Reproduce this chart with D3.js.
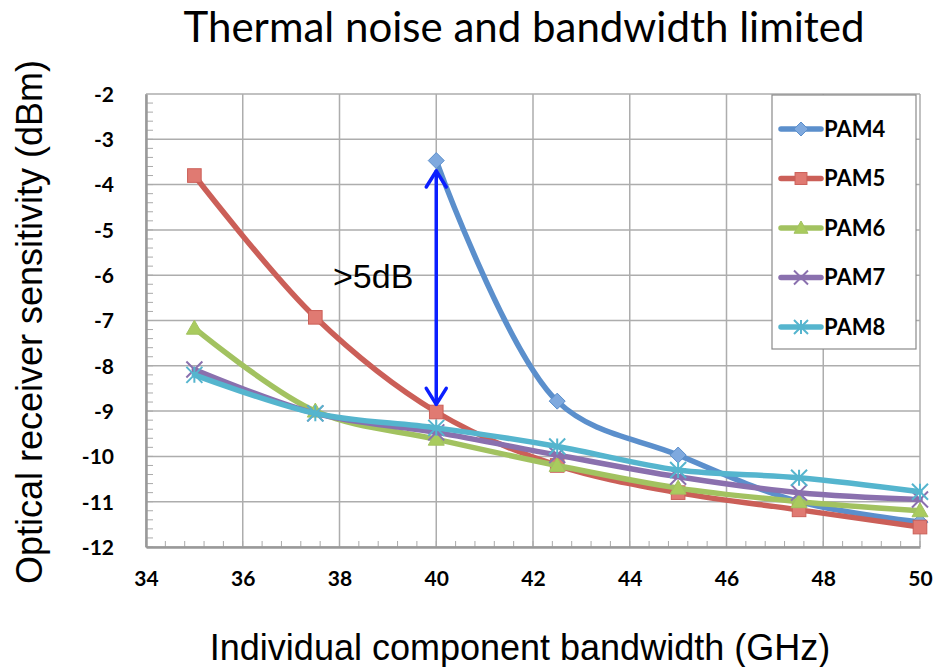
<!DOCTYPE html>
<html>
<head>
<meta charset="utf-8">
<script src="https://cdn.jsdelivr.net/npm/d3@7"></script>
<style>
  body { margin: 0; background: #fff; }
  svg text { fill: #000; }
</style>
</head>
<body>
<div id="chart"></div>
<script>
var width = 937;
var height = 667;

// data
var bandwidth = [35, 37.5, 40, 42.5, 45, 47.5, 50];
var pam4 = [null, null, -3.47, -8.78, -9.97, -11.0, -11.45];
var pam5 = [-3.8, -6.93, -9.02, -10.2, -10.8, -11.18, -11.56];
var pam6 = [-7.17, -9.0, -9.62, -10.2, -10.7, -11.0, -11.2];
var pam7 = [-8.08, -9.05, -9.47, -9.97, -10.45, -10.8, -10.95];
var pam8 = [-8.2, -9.05, -9.37, -9.78, -10.3, -10.47, -10.78];
var seriesNames = ["PAM4", "PAM5", "PAM6", "PAM7", "PAM8"];
var xTicks = [34, 36, 38, 40, 42, 44, 46, 48, 50];
var yTicks = [-2, -3, -4, -5, -6, -7, -8, -9, -10, -11, -12];

var colors = ["#5B8FCC", "#CB5F58", "#A2C260", "#8A70AE", "#55B5CE"];
var markerFill = ["#7FA9DE", "#E07A72", "#A9CB5E", "#8A70AE", "#6CC3DA"];
var shapes = ["diamond", "square", "triangle", "x", "star"];

var x = d3.scaleLinear().domain([34, 50]).range([146, 920]);
var y = d3.scaleLinear().domain([-12, -2]).range([547, 94]);

var svg = d3.select("#chart").append("svg")
    .attr("width", width)
    .attr("height", height);

// grid
svg.append("g").selectAll("line").data(yTicks).enter().append("line")
    .attr("x1", x(34)).attr("x2", x(50))
    .attr("y1", function(d){ return y(d); }).attr("y2", function(d){ return y(d); })
    .attr("stroke", "#ADADAD").attr("stroke-width", 1.5);
svg.append("g").selectAll("line").data(xTicks).enter().append("line")
    .attr("x1", function(d){ return x(d); }).attr("x2", function(d){ return x(d); })
    .attr("y1", y(-2)).attr("y2", y(-12))
    .attr("stroke", "#ADADAD").attr("stroke-width", 1.5);

// minor ticks, inside the plot
var yMinor = d3.range(-12, -2.001, 0.2);
svg.append("g").selectAll("line").data(yMinor).enter().append("line")
    .attr("x1", x(34)).attr("x2", x(34) + 7)
    .attr("y1", function(d){ return y(d); }).attr("y2", function(d){ return y(d); })
    .attr("stroke", "#AAAAAA").attr("stroke-width", 1);
var xMinor = d3.range(34, 50.001, 0.4);
svg.append("g").selectAll("line").data(xMinor).enter().append("line")
    .attr("x1", function(d){ return x(d); }).attr("x2", function(d){ return x(d); })
    .attr("y1", y(-12)).attr("y2", y(-12) - 6)
    .attr("stroke", "#AAAAAA").attr("stroke-width", 1);

// axes
var yAxis = svg.append("g")
    .attr("transform", "translate(" + x(34) + ",0)")
    .call(d3.axisLeft(y).tickValues(yTicks).tickSize(0).tickPadding(32).tickFormat(function(d){ return String(d); }));
var xAxis = svg.append("g")
    .attr("transform", "translate(0," + y(-12) + ")")
    .call(d3.axisBottom(x).tickValues(xTicks).tickSize(0).tickPadding(30));
[yAxis, xAxis].forEach(function(a){
    a.select(".domain").attr("stroke", "#999").attr("stroke-width", 2.5);
    a.selectAll("text").attr("font-family", "Lato, 'Open Sans', sans-serif")
        .attr("font-weight", "bold").attr("font-size", 21).attr("fill", "#000");
});
xAxis.selectAll("text").attr("dy", "0.45em");
yAxis.selectAll("text").attr("dy", "0.35em");

// series
var allSeries = [pam4, pam5, pam6, pam7, pam8].map(function(vals, i){
    return {
        name: seriesNames[i],
        points: bandwidth.map(function(b, j){ return { x: b, y: vals[j] }; })
            .filter(function(p){ return p.y !== null; })
    };
});

var line = d3.line()
    .x(function(d){ return x(d.x); })
    .y(function(d){ return y(d.y); })
    .curve(d3.curveCatmullRom.alpha(0.5));

function drawMarker(g, shape, cx, cy, i, s) {
    var c = colors[i], f = markerFill[i];
    if (shape == "diamond") {
        g.append("path").attr("d", "M" + cx + "," + (cy - s) + "L" + (cx + s) + "," + cy + "L" + cx + "," + (cy + s) + "L" + (cx - s) + "," + cy + "Z")
            .attr("fill", f).attr("stroke", c).attr("stroke-width", 1);
    } else if (shape == "square") {
        g.append("rect").attr("x", cx - s * 0.85).attr("y", cy - s * 0.85)
            .attr("width", s * 1.7).attr("height", s * 1.7)
            .attr("fill", f).attr("stroke", c).attr("stroke-width", 1);
    } else if (shape == "triangle") {
        g.append("path").attr("d", "M" + cx + "," + (cy - s) + "L" + (cx + s) + "," + (cy + s * 0.75) + "L" + (cx - s) + "," + (cy + s * 0.75) + "Z")
            .attr("fill", f).attr("stroke", c).attr("stroke-width", 1);
    } else if (shape == "x") {
        g.append("path").attr("d", "M" + (cx - s) + "," + (cy - s) + "L" + (cx + s) + "," + (cy + s) + "M" + (cx + s) + "," + (cy - s) + "L" + (cx - s) + "," + (cy + s))
            .attr("stroke", c).attr("stroke-width", 2);
    } else {
        g.append("path").attr("d", "M" + (cx - s) + "," + (cy - s) + "L" + (cx + s) + "," + (cy + s) + "M" + (cx + s) + "," + (cy - s) + "L" + (cx - s) + "," + (cy + s) + "M" + cx + "," + (cy - s) + "L" + cx + "," + (cy + s))
            .attr("stroke", c).attr("stroke-width", 2);
    }
}

allSeries.forEach(function(s, i){
    var g = svg.append("g");
    g.append("path").datum(s.points)
        .attr("d", line)
        .attr("fill", "none")
        .attr("stroke", colors[i])
        .attr("stroke-width", 5.5)
        .attr("stroke-linecap", "round")
        .attr("stroke-linejoin", "round");
    s.points.forEach(function(p){
        drawMarker(g, shapes[i], x(p.x), y(p.y), i, 8);
    });
});

// annotation arrow
var ax = x(40);
var arrowTop = y(-3.7), arrowBot = y(-8.85);
var ag = svg.append("g").attr("stroke", "#0B1FFF").attr("stroke-width", 3.5)
    .attr("fill", "none").attr("stroke-linecap", "round").attr("stroke-linejoin", "round");
ag.append("line").attr("x1", ax).attr("x2", ax).attr("y1", arrowTop).attr("y2", arrowBot);
ag.append("path").attr("d", "M" + (ax - 10) + "," + (arrowTop + 16) + "L" + ax + "," + arrowTop + "L" + (ax + 10) + "," + (arrowTop + 16));
ag.append("path").attr("d", "M" + (ax - 10) + "," + (arrowBot - 16) + "L" + ax + "," + arrowBot + "L" + (ax + 10) + "," + (arrowBot - 16));
svg.append("text").attr("x", 333).attr("y", 288)
    .attr("font-family", "'Liberation Sans', Arial, sans-serif")
    .attr("font-size", 34).text(">5dB");

// legend
var lg = svg.append("g");
lg.append("rect").attr("x", 772).attr("y", 95).attr("width", 144).attr("height", 254)
    .attr("fill", "#fff").attr("stroke", "#8A8A8A").attr("stroke-width", 1.2);
seriesNames.forEach(function(n, i){
    var ly = 129 + i * 49.5;
    lg.append("line").attr("x1", 781).attr("x2", 821).attr("y1", ly).attr("y2", ly)
        .attr("stroke", colors[i]).attr("stroke-width", 5.5).attr("stroke-linecap", "round");
    drawMarker(lg, shapes[i], 801, ly, i, 7);
    lg.append("text").attr("x", 824).attr("y", ly).attr("dy", "0.35em")
        .attr("font-family", "Lato, 'Open Sans', sans-serif").attr("font-weight", "bold")
        .attr("font-size", 22).text(n);
});

// titles
svg.append("text").attr("x", 524).attr("y", 42).attr("text-anchor", "middle")
    .attr("font-family", "Lato, 'Open Sans', sans-serif").attr("font-size", 42)
    .text("Thermal noise and bandwidth limited");
svg.append("text").attr("x", 520).attr("y", 660).attr("text-anchor", "middle")
    .attr("font-family", "'Liberation Sans', Arial, sans-serif").attr("font-size", 36)
    .text("Individual component bandwidth (GHz)");
svg.append("text").attr("transform", "translate(42,322) rotate(-90)").attr("text-anchor", "middle")
    .attr("font-family", "'Liberation Sans', Arial, sans-serif").attr("font-size", 36)
    .text("Optical receiver sensitivity (dBm)");
</script>
</body>
</html>
